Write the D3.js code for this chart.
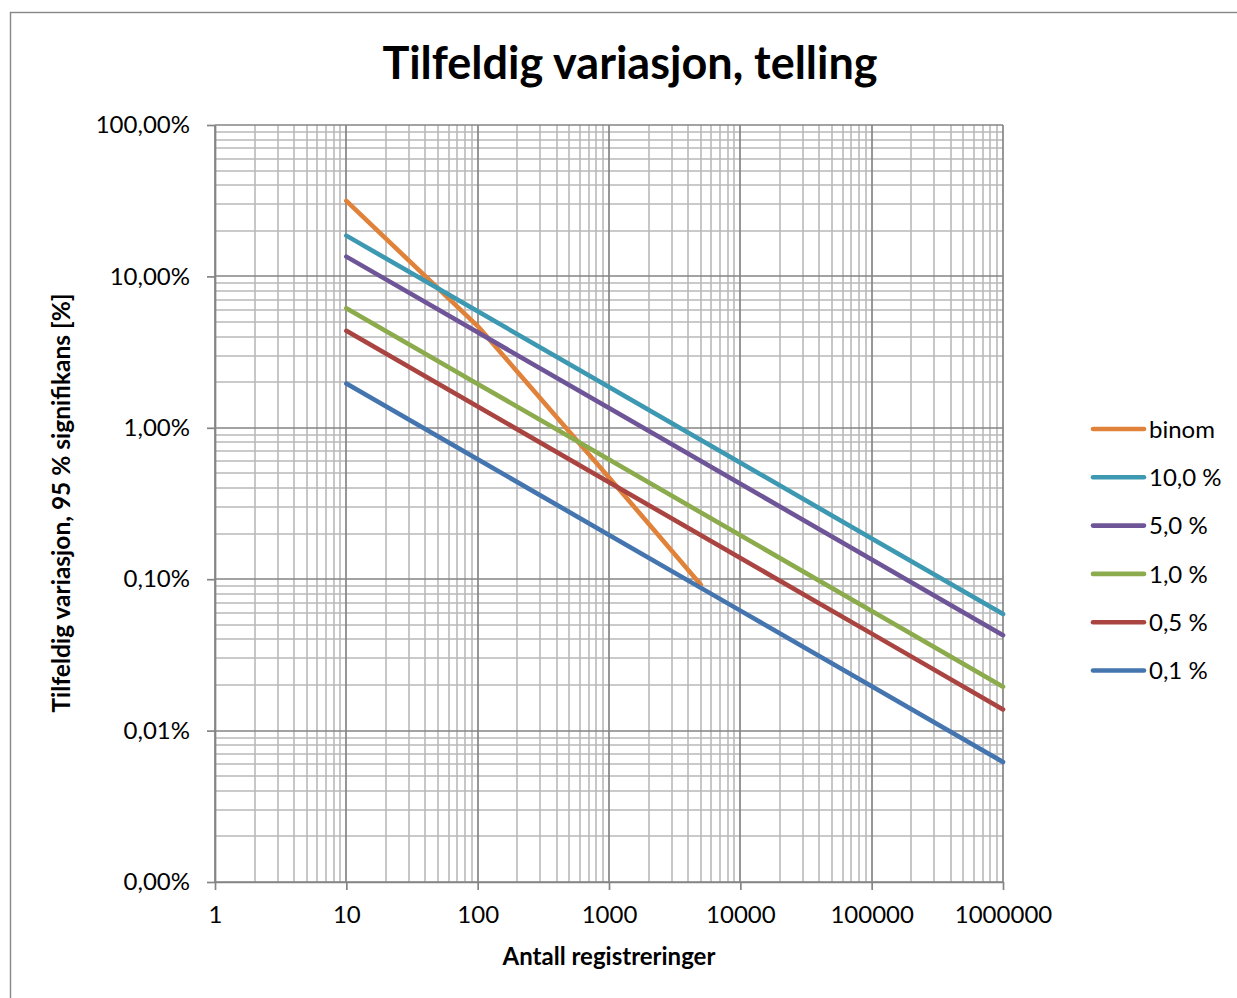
<!DOCTYPE html>
<html>
<head>
<meta charset="utf-8">
<script src="https://cdn.jsdelivr.net/npm/d3@7"></script>
<style>
  html, body { margin: 0; padding: 0; background: #fff; }
  svg { display: block; }
  text { font-family: Lato, "Open Sans", sans-serif; fill: #000; }
</style>
</head>
<body>
<svg id="chart" width="1237" height="998"></svg>
<script>
// Sample sizes (number of registrations) at which the curves are evaluated
const counts = [10, 100, 1000, 10000, 100000, 1000000];

// Random variation (95 % confidence) in percent, one array per proportion
const p10  = [18.59, 5.88, 1.859, 0.588, 0.1859, 0.0588];
const p5   = [13.51, 4.27, 1.351, 0.427, 0.1351, 0.0427];
const p1   = [6.17, 1.950, 0.617, 0.195, 0.0617, 0.0195];
const p05  = [4.37, 1.382, 0.437, 0.138, 0.0437, 0.0138];
const p01  = [1.959, 0.620, 0.196, 0.062, 0.0196, 0.0062];

// Binomial curve, shorter range
const binomCounts = [10, 100, 1000, 5000];
const binomVals   = [31.5, 4.7, 0.47, 0.092];

const seriesNames = ["binom", "10,0 %", "5,0 %", "1,0 %", "0,5 %", "0,1 %"];
const seriesColors = ["#E0823A", "#3D98B2", "#6E5597", "#8CAB4D", "#AA4440", "#4575AF"];

// Axis ticks
const xTicks = [1, 10, 100, 1000, 10000, 100000, 1000000];
const xTickLabels = ["1", "10", "100", "1000", "10000", "100000", "1000000"];
const yTicks = [100, 10, 1, 0.1, 0.01, 0.001];
const yTickLabels = ["100,00%", "10,00%", "1,00%", "0,10%", "0,01%", "0,00%"];

const series = [
  { name: seriesNames[0], color: seriesColors[0], pts: binomCounts.map((n, i) => [n, binomVals[i]]) },
  { name: seriesNames[1], color: seriesColors[1], pts: counts.map((n, i) => [n, p10[i]]) },
  { name: seriesNames[2], color: seriesColors[2], pts: counts.map((n, i) => [n, p5[i]]) },
  { name: seriesNames[3], color: seriesColors[3], pts: counts.map((n, i) => [n, p1[i]]) },
  { name: seriesNames[4], color: seriesColors[4], pts: counts.map((n, i) => [n, p05[i]]) },
  { name: seriesNames[5], color: seriesColors[5], pts: counts.map((n, i) => [n, p01[i]]) }
];

const svg = d3.select("#chart");
const plot = { left: 215, right: 1003, top: 125, bottom: 882 };

// Outer chart frame
svg.append("rect")
  .attr("x", 10.5).attr("y", 12.5)
  .attr("width", 1240).attr("height", 1000)
  .attr("fill", "none").attr("stroke", "#878787").attr("stroke-width", 1.4);

const x = d3.scaleLog().domain([1, 1e6]).range([plot.left, plot.right]);
const y = d3.scaleLog().domain([0.001, 100]).range([plot.bottom, plot.top]);

// Minor grid values: 2..9 within each decade
const minorX = [];
for (let d = 1; d < 1e6; d *= 10) for (let k = 2; k <= 9; k++) minorX.push(d * k);
const minorY = [];
for (let d = 0.001; d < 99; d *= 10) for (let k = 2; k <= 9; k++) minorY.push(d * k);

const grid = svg.append("g");
const px = v => Math.round(x(v));
const py = v => Math.round(y(v));
grid.selectAll(".vminor").data(minorX).join("line")
  .attr("x1", px).attr("x2", px)
  .attr("y1", plot.top).attr("y2", plot.bottom)
  .attr("stroke", "#b9b9b9").attr("stroke-width", 1.6);
grid.selectAll(".hminor").data(minorY).join("line")
  .attr("y1", py).attr("y2", py)
  .attr("x1", plot.left).attr("x2", plot.right)
  .attr("stroke", "#b9b9b9").attr("stroke-width", 1.6);
grid.selectAll(".vmajor").data(xTicks).join("line")
  .attr("x1", px).attr("x2", px)
  .attr("y1", plot.top).attr("y2", plot.bottom)
  .attr("stroke", "#858585").attr("stroke-width", 1.7);
grid.selectAll(".hmajor").data(yTicks).join("line")
  .attr("y1", py).attr("y2", py)
  .attr("x1", plot.left).attr("x2", plot.right)
  .attr("stroke", "#858585").attr("stroke-width", 1.7);

// Axes
const yAxis = d3.axisLeft(y).tickValues(yTicks)
  .tickFormat((d, i) => yTickLabels[i]).tickSizeInner(8).tickSizeOuter(0).tickPadding(17);
const gy = svg.append("g").attr("transform", `translate(${plot.left},0)`).call(yAxis);

const xAxis = d3.axisBottom(x).tickValues(xTicks)
  .tickFormat((d, i) => xTickLabels[i]).tickSizeInner(8).tickSizeOuter(0).tickPadding(16);
const gx = svg.append("g").attr("transform", `translate(0,${plot.bottom})`).call(xAxis);

[gx, gy].forEach(g => {
  g.select(".domain").attr("stroke", "#858585").attr("stroke-width", 1.7);
  g.selectAll(".tick line").attr("stroke", "#858585").attr("stroke-width", 1.7);
  g.selectAll(".tick text").style("font-family", "Lato, sans-serif").style("font-size", "24px").attr("fill", "#000");
});

// Series lines
const line = d3.line().x(d => x(d[0])).y(d => y(d[1]));
svg.append("g").selectAll("path").data(series).join("path")
  .attr("d", d => line(d.pts))
  .attr("fill", "none")
  .attr("stroke", d => d.color)
  .attr("stroke-width", 4.6)
  .attr("stroke-linecap", "round")
  .attr("stroke-linejoin", "round");

// Title
svg.append("text")
  .attr("x", 630).attr("y", 79)
  .attr("text-anchor", "middle")
  .style("font-size", "45px").style("font-weight", "bold")
  .text("Tilfeldig variasjon, telling");

// Axis titles
svg.append("text")
  .attr("x", 609).attr("y", 965)
  .attr("text-anchor", "middle")
  .style("font-size", "24px").style("font-weight", "bold")
  .text("Antall registreringer");

svg.append("text")
  .attr("transform", "translate(70,503) rotate(-90)")
  .attr("text-anchor", "middle")
  .style("font-size", "24.5px").style("font-weight", "bold")
  .text("Tilfeldig variasjon, 95 % signifikans [%]");

// Legend
const legend = svg.append("g").selectAll("g").data(series).join("g")
  .attr("transform", (d, i) => `translate(1093,${429 + i * 48.3})`);
legend.append("line")
  .attr("x1", 0).attr("x2", 51).attr("y1", 0).attr("y2", 0)
  .attr("stroke", d => d.color).attr("stroke-width", 4.6).attr("stroke-linecap", "round");
legend.append("text")
  .attr("x", 56).attr("y", 0).attr("dy", "0.36em")
  .style("font-size", "24px")
  .text(d => d.name);
</script>
</body>
</html>
